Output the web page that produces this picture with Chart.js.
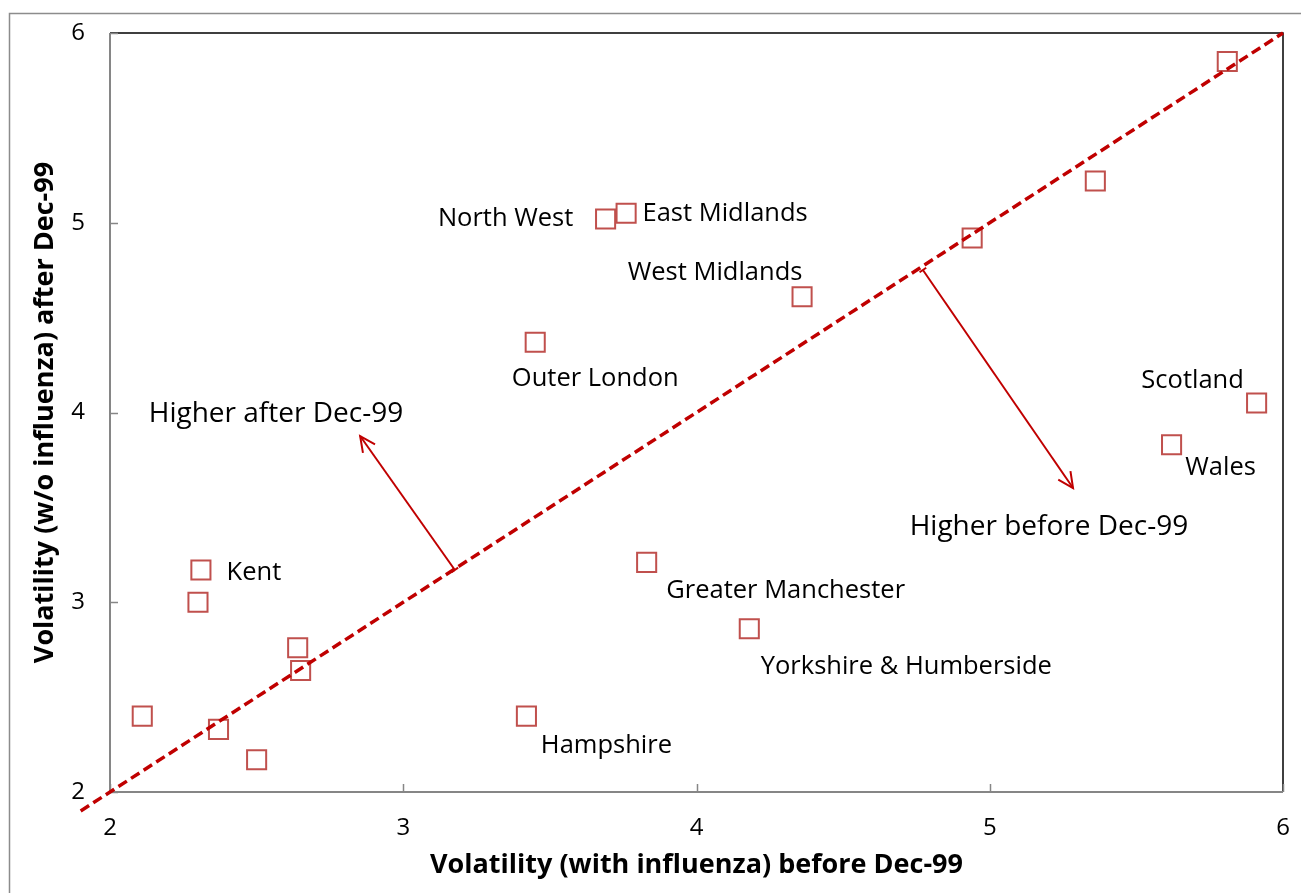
<!DOCTYPE html>
<html>
<head>
<meta charset="utf-8">
<script src="https://cdn.jsdelivr.net/npm/chart.js@4.4.1/dist/chart.umd.min.js"></script>
<style>
  html, body { margin: 0; padding: 0; background: #fff; }
  #wrap { width: 1301px; height: 893px; position: relative; }
</style>
</head>
<body>
<div id="wrap"><canvas id="chart_volatility"></canvas></div>
<script>
// regions: volatility before Dec-99 (with influenza) vs after Dec-99 (w/o influenza)
const regionNames = [
  "", "", "", "West Midlands", "East Midlands", "North West", "Outer London",
  "Scotland", "Wales", "Kent", "", "", "", "", "", "", "Hampshire",
  "Greater Manchester", "Yorkshire & Humberside"
];
const volBefore = [
  5.81, 5.36, 4.94, 4.36, 3.76, 3.69, 3.45,
  5.91, 5.62, 2.31, 2.30, 2.64, 2.65, 2.11, 2.37, 2.50, 3.42,
  3.83, 4.18
];
const volAfter = [
  5.85, 5.22, 4.92, 4.61, 5.05, 5.02, 4.37,
  4.05, 3.83, 3.17, 3.00, 2.76, 2.64, 2.40, 2.33, 2.17, 2.40,
  3.21, 2.86
];

// 45 degree reference line
const diagX = [1.9, 6];
const diagY = [1.9, 6];

const xTicks = [2, 3, 4, 5, 6];
const yTicks = [2, 3, 4, 5, 6];

// arrow annotations: [start x, start y, end x, end y] in data units
const arrowAfter = [3.176, 3.170, 2.853, 3.876];
const arrowBefore = [4.772, 4.751, 5.284, 3.602];
const noteTexts = ["Higher after Dec-99", "Higher before Dec-99"];
const noteX = [2.566, 5.202];
const noteY = [3.993, 3.397];

// where each region label sits relative to its marker (px)
const labelPlacement = {
  "North West": [-100, 0],
  "East Midlands": [99, 0],
  "West Midlands": [-87, -24],
  "Outer London": [60, 36],
  "Scotland": [-64, -22],
  "Wales": [49, 23],
  "Kent": [53, 3],
  "Hampshire": [80, 30],
  "Greater Manchester": [139, 28],
  "Yorkshire & Humberside": [157, 38]
};

const FONT = "'Open Sans', 'DejaVu Sans', sans-serif";
const RED = "#C00000";

const points = volBefore.map(function (v, i) { return { x: v, y: volAfter[i] }; });
const diag = diagX.map(function (v, i) { return { x: v, y: diagY[i] }; });

function drawArrow(ctx, sx, sy, ex, ey) {
  const ang = Math.atan2(ey - sy, ex - sx);
  ctx.beginPath();
  ctx.moveTo(sx, sy);
  ctx.lineTo(ex, ey);
  ctx.stroke();
  // open arrow head
  const hl = 17, ha = 0.45;
  ctx.beginPath();
  ctx.moveTo(ex - hl * Math.cos(ang - ha), ey - hl * Math.sin(ang - ha));
  ctx.lineTo(ex, ey);
  ctx.lineTo(ex - hl * Math.cos(ang + ha), ey - hl * Math.sin(ang + ha));
  ctx.stroke();
  // small cap at the start
  const cl = 4;
  ctx.beginPath();
  ctx.moveTo(sx - cl * Math.cos(ang + Math.PI / 2), sy - cl * Math.sin(ang + Math.PI / 2));
  ctx.lineTo(sx + cl * Math.cos(ang + Math.PI / 2), sy + cl * Math.sin(ang + Math.PI / 2));
  ctx.stroke();
}

const framePlugin = {
  id: "frame",
  beforeDraw: function (chart) {
    const ctx = chart.ctx;
    ctx.save();
    ctx.strokeStyle = "#8c8c8c";
    ctx.lineWidth = 1.5;
    ctx.strokeRect(9.5, 13.5, 1320, 900);
    ctx.restore();
  },
  beforeDatasetsDraw: function (chart) {
    const ctx = chart.ctx;
    const a = chart.chartArea;
    const xs = chart.scales.x, ys = chart.scales.y;
    ctx.save();
    // top and right edges
    ctx.strokeStyle = "#000";
    ctx.lineWidth = 1.5;
    ctx.beginPath();
    ctx.moveTo(a.left, a.top);
    ctx.lineTo(a.right, a.top);
    ctx.lineTo(a.right, a.bottom);
    ctx.stroke();
    // axes
    ctx.strokeStyle = "#868686";
    ctx.lineWidth = 2;
    ctx.beginPath();
    ctx.moveTo(a.left, a.top);
    ctx.lineTo(a.left, a.bottom);
    ctx.lineTo(a.right, a.bottom);
    ctx.stroke();
    // inward tick marks
    ctx.lineWidth = 1.5;
    ctx.beginPath();
    yTicks.forEach(function (t) {
      const py = Math.round(ys.getPixelForValue(t)) + 0.5;
      ctx.moveTo(a.left, py);
      ctx.lineTo(a.left + 8, py);
    });
    xTicks.forEach(function (t) {
      const px = Math.round(xs.getPixelForValue(t)) + 0.5;
      ctx.moveTo(px, a.bottom);
      ctx.lineTo(px, a.bottom - 8);
    });
    ctx.stroke();
    ctx.restore();
  },
  afterDatasetsDraw: function (chart) {
    const ctx = chart.ctx;
    const xs = chart.scales.x, ys = chart.scales.y;
    ctx.save();
    ctx.strokeStyle = RED;
    ctx.lineWidth = 2;
    [arrowAfter, arrowBefore].forEach(function (ar) {
      drawArrow(ctx,
        xs.getPixelForValue(ar[0]), ys.getPixelForValue(ar[1]),
        xs.getPixelForValue(ar[2]), ys.getPixelForValue(ar[3]));
    });

    ctx.fillStyle = "#000";
    ctx.textAlign = "center";
    ctx.textBaseline = "middle";
    ctx.font = "28px " + FONT;
    noteTexts.forEach(function (t, i) {
      ctx.fillText(t, xs.getPixelForValue(noteX[i]), ys.getPixelForValue(noteY[i]));
    });
    ctx.font = "25.5px " + FONT;
    regionNames.forEach(function (name, i) {
      if (!name) return;
      const off = labelPlacement[name] || [0, 0];
      ctx.fillText(name,
        xs.getPixelForValue(volBefore[i]) + off[0],
        ys.getPixelForValue(volAfter[i]) + off[1]);
    });
    ctx.restore();
  }
};

new Chart(document.getElementById("chart_volatility"), {
  type: "scatter",
  data: {
    datasets: [
      {
        data: diag,
        type: "line",
        borderColor: RED,
        borderWidth: 3.5,
        borderDash: [10, 5],
        pointRadius: 0,
        fill: false,
        clip: false
      },
      {
        data: points,
        pointStyle: "rect",
        pointRadius: 13.5,
        pointHoverRadius: 13.5,
        borderWidth: 2,
        borderColor: "#C0504D",
        backgroundColor: "rgba(0,0,0,0)"
      }
    ]
  },
  options: {
    responsive: true,
    maintainAspectRatio: false,
    animation: false,
    events: [],
    layout: {
      padding: { left: 0, top: 33, right: 18, bottom: 0 }
    },
    plugins: {
      legend: { display: false },
      tooltip: { enabled: false }
    },
    scales: {
      x: {
        type: "linear",
        min: 2,
        max: 6,
        border: { display: false },
        grid: { display: false, drawTicks: false },
        ticks: {
          stepSize: 1,
          padding: 22,
          color: "#000",
          font: { family: FONT, size: 24 }
        },
        title: {
          display: true,
          text: "Volatility (with influenza) before Dec-99",
          color: "#000",
          font: { family: FONT, size: 27, weight: "bold" },
          padding: { top: 0, bottom: 11 }
        },
        afterFit: function (scale) {
          scale.height = 101;
          scale.paddingLeft = 0;
          scale.paddingRight = 0;
        }
      },
      y: {
        type: "linear",
        min: 2,
        max: 6,
        border: { display: false },
        grid: { display: false, drawTicks: false },
        ticks: {
          stepSize: 1,
          padding: 25,
          color: "#000",
          font: { family: FONT, size: 24 }
        },
        title: {
          display: true,
          text: "Volatility (w/o influenza) after Dec-99",
          color: "#000",
          font: { family: FONT, size: 27, weight: "bold" },
          padding: { top: 29, bottom: 0 }
        },
        afterFit: function (scale) {
          scale.width = 110;
          scale.paddingTop = 0;
          scale.paddingBottom = 0;
        }
      }
    }
  },
  plugins: [framePlugin]
});
</script>
</body>
</html>
